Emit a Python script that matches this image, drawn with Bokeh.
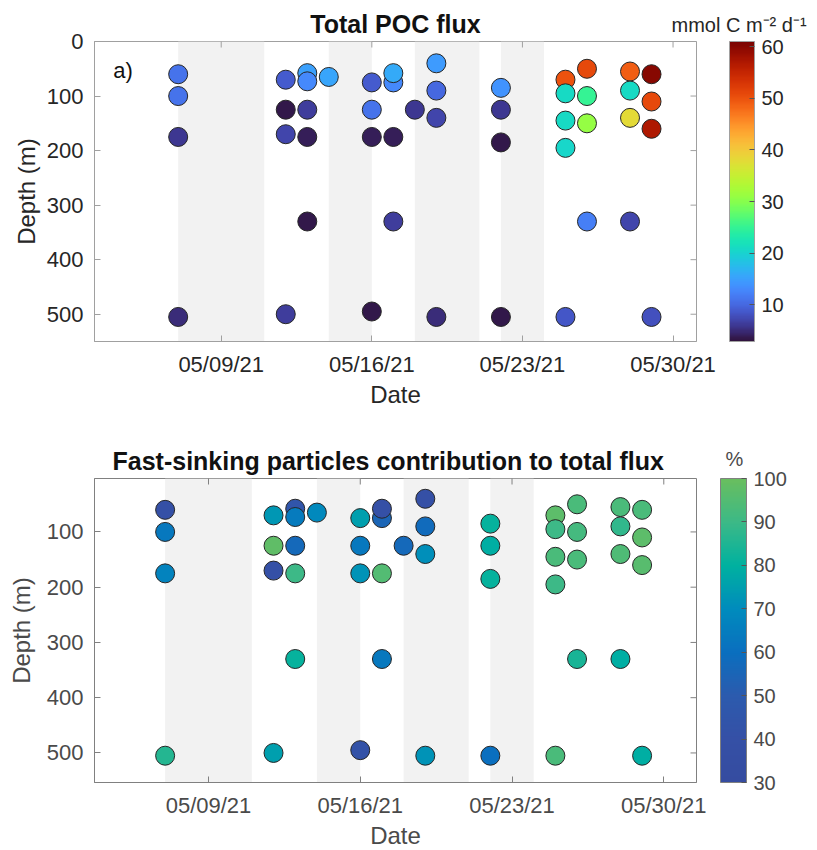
import math
import pandas as pd
from bokeh.plotting import figure
from bokeh.models import (ColumnDataSource, ColorBar, LinearColorMapper, BoxAnnotation,
                          FixedTicker, DatetimeTickFormatter, Label, Range1d)
from bokeh.layouts import column
from bokeh.palettes import Turbo256
from bokeh.embed import file_html
from bokeh.resources import INLINE

# ---------------- data ----------------
sample_date = [
    "2021-05-07", "2021-05-07", "2021-05-07", "2021-05-07",
    "2021-05-12", "2021-05-12", "2021-05-12", "2021-05-12",
    "2021-05-13", "2021-05-13", "2021-05-13", "2021-05-13", "2021-05-13",
    "2021-05-14",
    "2021-05-16", "2021-05-16", "2021-05-16", "2021-05-16",
    "2021-05-17", "2021-05-17", "2021-05-17", "2021-05-17",
    "2021-05-18",
    "2021-05-19", "2021-05-19", "2021-05-19", "2021-05-19",
    "2021-05-22", "2021-05-22", "2021-05-22", "2021-05-22",
    "2021-05-25", "2021-05-25", "2021-05-25", "2021-05-25", "2021-05-25",
    "2021-05-26", "2021-05-26", "2021-05-26", "2021-05-26",
    "2021-05-28", "2021-05-28", "2021-05-28", "2021-05-28",
    "2021-05-29", "2021-05-29", "2021-05-29", "2021-05-29",
]
depth_m = [
    60, 100, 175, 505,
    70, 125, 170, 500,
    58, 73, 125, 175, 330,
    65,
    75, 125, 175, 495,
    75, 58, 175, 330,
    125,
    40, 90, 140, 505,
    85, 125, 185, 505,
    70, 95, 145, 195, 505,
    50, 100, 150, 330,
    55, 90, 140, 330,
    60, 110, 160, 505,
]
poc_flux = [
    11, 11, 6, 5,
    9, 3.5, 7, 6.5,
    15, 13, 6.5, 4, 3.5,
    15.5,
    9, 11, 4, 3.5,
    13, 16, 4, 6.5,
    6,
    14.5, 10, 7, 5,
    14, 6, 3.5, 3.5,
    50, 21, 21, 20.5, 8.5,
    51, 25, 31, 12,
    49, 21, 38, 7,
    60, 51, 57, 8,
]
fast_pct = [
    40, 63, 67, 86,
    73, 98, 40, 75,
    45, 64, 57, 90, 81,
    69,
    75, 63, 72, 42,
    55, 40, 95, 63,
    57,
    40, 58, 71, 72,
    81, 79, 81, 60,
    97, 90, 93, 90, 93,
    93, 92, 93, 84,
    93, 88, 94, 79,
    93, 97, 96, 79,
]

shade_start = ["2021-05-07", "2021-05-14", "2021-05-18", "2021-05-22"]
shade_end = ["2021-05-11", "2021-05-16", "2021-05-21", "2021-05-24"]

date_ticks = ["2021-05-09", "2021-05-16", "2021-05-23", "2021-05-30"]
depth_ticks_a = [0, 100, 200, 300, 400, 500]
depth_ticks_b = [100, 200, 300, 400, 500]
flux_ticks = [10, 20, 30, 40, 50, 60]
pct_ticks = [30, 40, 50, 60, 70, 80, 90, 100]

pct_anchor_values = [30, 40, 50, 60, 70, 80, 90, 100]
pct_anchor_colors = ["#354ca0", "#3550a6", "#2c5bae", "#0a6fbf",
                     "#008cbd", "#00b1a0", "#3cb987", "#69be5f"]

FONT = "Liberation Sans"


def to_ms(s):
    return pd.Timestamp(s).timestamp() * 1000.0


def build_palette(vals, cols, n=256):
    rgb = [tuple(int(c[i:i + 2], 16) for i in (1, 3, 5)) for c in cols]
    lo, hi = vals[0], vals[-1]
    out = []
    for k in range(n):
        v = lo + (hi - lo) * k / (n - 1)
        j = 0
        while j < len(vals) - 2 and v > vals[j + 1]:
            j += 1
        t = (v - vals[j]) / (vals[j + 1] - vals[j])
        t = max(0.0, min(1.0, t))
        c = tuple(round(rgb[j][i] + (rgb[j + 1][i] - rgb[j][i]) * t) for i in range(3))
        out.append("#%02x%02x%02x" % c)
    return out


pct_palette = build_palette(pct_anchor_values, pct_anchor_colors)

src = ColumnDataSource(dict(date=pd.to_datetime(sample_date), depth=depth_m,
                            flux=poc_flux, pct=fast_pct))


def make_panel(field, mapper, title, x0, x1, y0, y1, y_ticks, fh, bt, bb,
               text_col, frame_col, cb_ticks, cb_off, cb_w,
               unit_text, unit_loc, title_align, title_offset, ylab_standoff):
    fw = 602
    p = figure(x_axis_type="datetime",
               x_range=Range1d(to_ms(x0), to_ms(x1)),
               y_range=Range1d(y0, y1),
               frame_width=fw, frame_height=fh,
               min_border_left=94, min_border_right=121,
               min_border_top=bt, min_border_bottom=bb,
               output_backend="svg", toolbar_location=None,
               background_fill_color="white", border_fill_color="white",
               title=title)
    p.title.align = title_align
    p.title.offset = title_offset
    p.title.text_font = FONT
    p.title.text_font_size = "25px"
    p.title.text_font_style = "bold"
    p.title.text_color = "#111111"
    p.title.standoff = 7
    p.grid.visible = False
    p.outline_line_color = frame_col
    p.outline_line_width = 1

    for s, e in zip(shade_start, shade_end):
        p.add_layout(BoxAnnotation(left=to_ms(s), right=to_ms(e),
                                   fill_color="#f2f2f2", fill_alpha=1.0,
                                   line_color=None, level="underlay"))

    p.xaxis.ticker = FixedTicker(ticks=[to_ms(t) for t in date_ticks])
    p.xaxis.formatter = DatetimeTickFormatter(
        days="%m/%d/%y", months="%m/%d/%y", years="%m/%d/%y",
        hours="%m/%d/%y", minutes="%m/%d/%y", seconds="%m/%d/%y",
        milliseconds="%m/%d/%y", microseconds="%m/%d/%y")
    p.yaxis.ticker = FixedTicker(ticks=y_ticks)
    p.xaxis.axis_label = "Date"
    p.yaxis.axis_label = "Depth (m)"
    for ax in (p.xaxis[0], p.yaxis[0]):
        ax.major_tick_in = 6
        ax.major_tick_out = 0
        ax.minor_tick_line_color = None
        ax.axis_line_color = frame_col
        ax.major_tick_line_color = frame_col
        ax.major_label_text_font = FONT
        ax.major_label_text_font_size = "22px"
        ax.major_label_text_color = text_col
        ax.axis_label_text_font = FONT
        ax.axis_label_text_font_size = "24px"
        ax.axis_label_text_font_style = "normal"
        ax.axis_label_text_color = text_col
    p.yaxis.major_label_standoff = 11
    p.yaxis.axis_label_standoff = ylab_standoff
    p.xaxis.major_label_standoff = 10
    p.xaxis.axis_label_standoff = 1

    # mirrored inward ticks on top and right edges (clipped to the frame)
    p.scatter(x=[to_ms(t) for t in date_ticks], y=[y1] * len(date_ticks),
              marker="dash", angle=math.pi / 2, size=12,
              line_color=frame_col, line_width=1)
    p.scatter(x=[to_ms(x1)] * len(y_ticks), y=y_ticks, marker="dash", size=12,
              line_color=frame_col, line_width=1)

    p.scatter(x="date", y="depth", source=src, size=19,
              fill_color={"field": field, "transform": mapper},
              line_color="#262626", line_width=1)

    cb = ColorBar(color_mapper=mapper, ticker=FixedTicker(ticks=cb_ticks),
                  location=(fw + cb_off, 0), width=cb_w, height=fh,
                  padding=0, margin=0,
                  major_label_text_font=FONT, major_label_text_font_size="20px",
                  major_label_text_color=text_col, label_standoff=7,
                  major_tick_in=5, major_tick_out=0,
                  major_tick_line_color="#555555", minor_tick_line_color=None,
                  bar_line_color=frame_col, border_line_color=None,
                  background_fill_color=None)
    p.add_layout(cb)

    # unit caption over the colour bar (horizontal bar kept invisible)
    unit = ColorBar(color_mapper=mapper, orientation="horizontal",
                    ticker=FixedTicker(ticks=[]), location=unit_loc,
                    width=10, height=1, scale_alpha=0.0,
                    padding=0, margin=0, label_standoff=0,
                    major_tick_in=0, major_tick_out=0,
                    major_tick_line_color=None, minor_tick_line_color=None,
                    bar_line_color=None, border_line_color=None,
                    background_fill_color=None, background_fill_alpha=0.0,
                    title=unit_text, title_text_font=FONT,
                    title_text_font_size="20px", title_text_font_style="normal",
                    title_text_color=text_col, title_standoff=0)
    p.add_layout(unit)
    return p


flux_mapper = LinearColorMapper(palette=Turbo256, low=2.9, high=61)
pct_mapper = LinearColorMapper(palette=pct_palette, low=30, high=100)

p1 = make_panel("flux", flux_mapper, "Total POC flux",
                "2021-05-03 02:40", "2021-05-31 02:10", 550, 0, depth_ticks_a,
                300, 41, 84, "#262626", "#a0a0a0", flux_ticks, 33, 25,
                "mmol C m\u207b\u00b2 d\u207b\u00b9", (577, 305), "center", 0, 4)
p1.add_layout(Label(x=to_ms("2021-05-03 23:30"), y=54, text="a)",
                    text_font=FONT, text_font_size="22px", text_color="#111111",
                    text_align="left", text_baseline="middle"))

p2 = make_panel("pct", pct_mapper, "Fast-sinking particles contribution to total flux",
                "2021-05-03 17:49", "2021-05-31 12:13", 553.5, 3.3, depth_ticks_b,
                304, 53, 68, "#4a4a4a", "#808080", pct_ticks, 24, 26,
                "%", (631, 312), "left", 18, 9)

layout = column(p1, p2)
open("out.html", "w").write(file_html(layout, INLINE))
